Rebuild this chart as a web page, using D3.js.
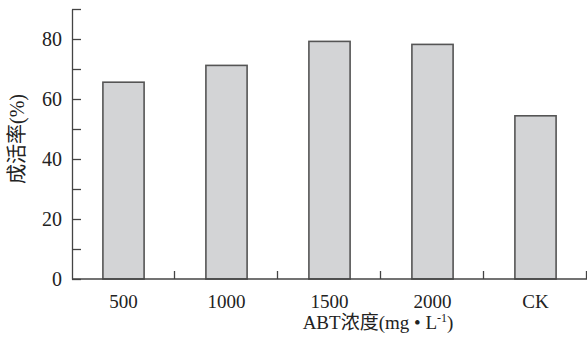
<!DOCTYPE html>
<html>
<head>
<meta charset="utf-8">
<script src="https://cdn.jsdelivr.net/npm/d3@7"></script>
<style>
  body { margin: 0; background: #fff; }
  text { font-family: "Liberation Serif", "Times New Roman", "Noto Sans CJK SC", serif; fill: #222; }
</style>
</head>
<body>
<script>
// 成活率 柱状图
const width = 587;
const height = 342;
const margin = {top: 9, right: 0, bottom: 63, left: 72};

const categories = ["500", "1000", "1500", "2000", "CK"];
const rates = [65.6, 71.2, 79.2, 78.2, 54.4];
const majorTicks = [0, 20, 40, 60, 80];
const minorTicks = [10, 30, 50, 70, 90];

const x = d3.scaleBand()
    .domain(categories)
    .range([margin.left, width - margin.right])
    .paddingInner(0.6)
    .paddingOuter(0.3);

const y = d3.scaleLinear()
    .domain([0, 90])
    .range([height - margin.bottom, margin.top]);

const svg = d3.select("body").append("svg")
    .attr("width", width)
    .attr("height", height);

// 柱子
svg.append("g")
  .selectAll("rect")
  .data(categories)
  .join("rect")
    .attr("x", d => x(d))
    .attr("y", (d, i) => y(rates[i]))
    .attr("width", x.bandwidth())
    .attr("height", (d, i) => y(0) - y(rates[i]))
    .attr("fill", "#d3d4d6")
    .attr("stroke", "#555")
    .attr("stroke-width", 1.6);

// y 轴 (刻度朝内)
const yAxis = g => g
    .attr("transform", `translate(${margin.left},0)`)
    .call(d3.axisRight(y).tickValues(majorTicks.concat(minorTicks)).tickSize(9).tickSizeOuter(0).tickFormat(""))
    .call(g => g.selectAll("line, path").attr("stroke", "#444").attr("stroke-width", 1.3));

svg.append("g").call(yAxis);

svg.append("g")
  .selectAll("text")
  .data(majorTicks)
  .join("text")
    .attr("x", margin.left - 10)
    .attr("y", d => y(d))
    .attr("dy", "0.35em")
    .attr("text-anchor", "end")
    .attr("font-size", 20)
    .text(d => d);

// x 轴: 类别分隔刻度朝上
const step = x.step();
const edges = d3.range(1, categories.length + 1).map(i => margin.left + i * step - 0.5);

svg.append("line")
    .attr("x1", margin.left)
    .attr("x2", width)
    .attr("y1", y(0))
    .attr("y2", y(0))
    .attr("stroke", "#444")
    .attr("stroke-width", 1.3);

svg.append("g")
  .selectAll("line")
  .data(edges)
  .join("line")
    .attr("x1", d => d)
    .attr("x2", d => d)
    .attr("y1", y(0))
    .attr("y2", y(0) - 8)
    .attr("stroke", "#444")
    .attr("stroke-width", 1.3);

svg.append("g")
  .selectAll("text")
  .data(categories)
  .join("text")
    .attr("x", d => x(d) + x.bandwidth() / 2)
    .attr("y", y(0) + 29)
    .attr("text-anchor", "middle")
    .attr("font-size", 19)
    .text(d => d);

// 轴标题
const xt = svg.append("text")
    .attr("x", 378)
    .attr("y", y(0) + 50)
    .attr("text-anchor", "middle")
    .attr("font-size", 19);
xt.append("tspan").text("ABT浓度(mg • L");
xt.append("tspan").attr("font-size", 12).attr("dy", -7).text("-1");
xt.append("tspan").attr("dy", 7).text(")");

svg.append("text")
    .attr("transform", `translate(24,${139}) rotate(-90)`)
    .attr("text-anchor", "middle")
    .attr("font-size", 20)
    .text("成活率(%)");
</script>
</body>
</html>
